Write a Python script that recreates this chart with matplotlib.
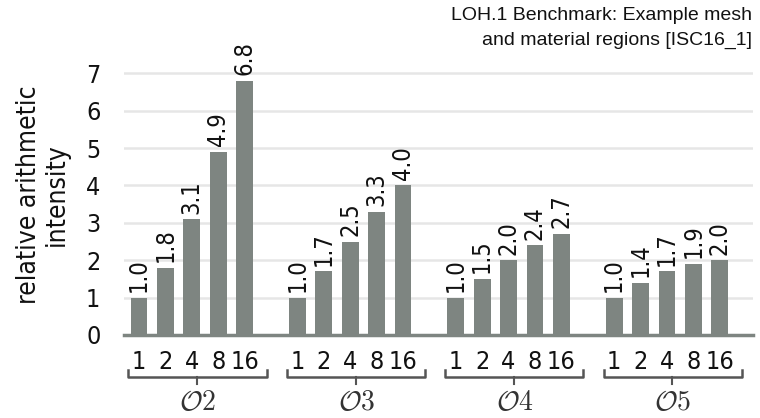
import matplotlib.pyplot as plt
import numpy as np

# datos
group_labels = [r'$\mathcal{O}2$', r'$\mathcal{O}3$', r'$\mathcal{O}4$', r'$\mathcal{O}5$']
sizes = ['1', '2', '4', '8', '16']
o2 = [1.0, 1.8, 3.1, 4.9, 6.8]
o3 = [1.0, 1.7, 2.5, 3.3, 4.0]
o4 = [1.0, 1.5, 2.0, 2.4, 2.7]
o5 = [1.0, 1.4, 1.7, 1.9, 2.0]
series = [o2, o3, o4, o5]
yticks = [0, 1, 2, 3, 4, 5, 6, 7]

plt.rcParams['mathtext.fontset'] = 'cm'
bar_color = '#7e8581'
brace_color = '#555555'

fig = plt.figure(figsize=(7.6, 4.18), dpi=100)
ax = fig.add_axes([124 / 760, 83 / 418, 629 / 760, 273 / 418])

xticks = []
for g, vals in enumerate(series):
    x = 6 * g + np.arange(len(vals))
    xticks.extend(x)
    ax.bar(x, vals, width=0.64, color=bar_color, zorder=2)
    for xi, v in zip(x, vals):
        ax.annotate(f'{v:.1f}', (xi, v), xytext=(0, 4), textcoords='offset points',
                    rotation=90, ha='center', va='bottom', fontsize=17,
                    fontstretch='condensed', color='#111111')

    # llave bajo cada grupo
    tr = ax.get_xaxis_transform()
    x0, x1, xm = 6 * g - 0.4, 6 * g + 4.83, 6 * g + 2.21
    ax.plot([x0, x0, x1, x1], [-0.128, -0.154, -0.154, -0.128], color=brace_color,
            lw=1.8, transform=tr, clip_on=False)
    ax.plot([xm, xm], [-0.154, -0.18], color=brace_color, lw=1.5, transform=tr, clip_on=False)
    ax.text(6 * g + 2.22, -0.245, group_labels[g], transform=tr, ha='center', va='center',
            fontsize=20, color='#333333')

ax.set_xlim(-0.57, 23.26)
ax.set_ylim(0, 7.3)
ax.set_xticks(xticks)
ax.set_xticklabels(sizes * len(series))
ax.set_yticks(yticks)
ax.tick_params(axis='both', length=0, labelsize=18, colors='#111111')
ax.tick_params(axis='x', pad=11)
ax.tick_params(axis='y', pad=17)
for lab in ax.get_xticklabels() + ax.get_yticklabels():
    lab.set_fontstretch('condensed')

ax.grid(axis='y', color='#e6e6e6', lw=1.8)
ax.set_axisbelow(True)
for s in ['top', 'right', 'left']:
    ax.spines[s].set_visible(False)
ax.spines['bottom'].set_color(bar_color)
ax.spines['bottom'].set_linewidth(2.5)

ax.text(-0.129, 0.513, 'relative arithmetic\nintensity', transform=ax.transAxes,
        rotation=90, ha='center', va='center', fontsize=19, fontstretch='condensed',
        linespacing=1.1, color='#111111')

fig.text(752 / 760, 1 - 20 / 418, 'LOH.1 Benchmark: Example mesh', ha='right',
         va='baseline', fontsize=14, family='Liberation Sans', color='#111111')
fig.text(752 / 760, 1 - 45 / 418, 'and material regions [ISC16_1]', ha='right',
         va='baseline', fontsize=14, family='Liberation Sans', color='#111111')

plt.savefig('out.png', dpi=100)
plt.close()
